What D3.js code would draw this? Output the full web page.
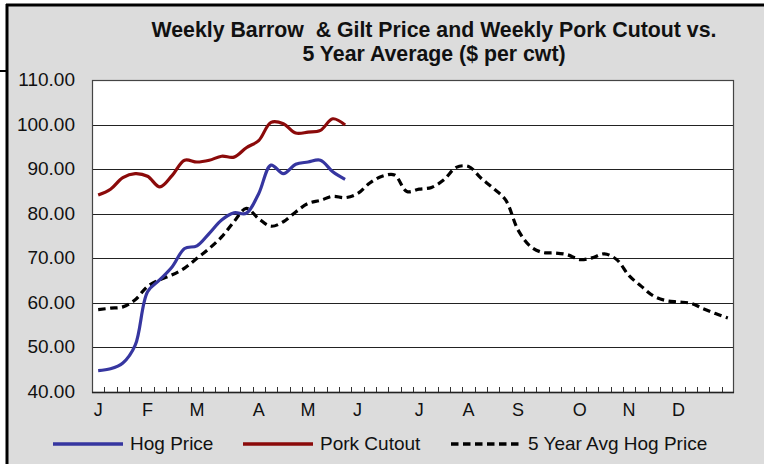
<!DOCTYPE html>
<html><head><meta charset="utf-8">
<script src="https://cdn.jsdelivr.net/npm/d3@7"></script>
<style>
html,body{margin:0;padding:0;background:#fff;}
svg text{font-family:"Liberation Sans",Arial,sans-serif;fill:#111;}
</style></head>
<body>
<svg id="c" width="764" height="464"></svg>
<script>
const monthLabels = ["J","F","M","A","M","J","J","A","S","O","N","D"];
const monthStartWeek = [0,4,8,13,17,21,26,30,34,39,43,47];
const yTicks = [40,50,60,70,80,90,100,110];
const hogPrice = [44.8,45.2,46.5,50.5,62.5,65.2,68.1,72.2,72.8,75.6,78.6,80.2,80.1,84.5,90.9,89.0,91.1,91.6,92.0,89.4,87.7];
const porkCutout = [84.2,85.5,88.1,89.0,88.4,86.0,88.6,92.0,91.6,92.0,92.9,92.7,94.8,96.4,100.5,100.2,98.1,98.3,98.7,101.3,99.9];
const fiveYearAvg = [58.5,58.8,59.1,60.7,63.7,65.2,66.3,67.8,70.0,72.2,74.8,78.2,81.2,78.9,77.2,78.2,80.4,82.3,83.0,83.9,83.6,84.5,86.9,88.4,88.7,85.0,85.5,85.9,87.6,90.4,90.6,88.0,85.7,83.1,76.4,72.7,71.3,71.2,70.8,69.7,70.1,71.0,69.7,66.1,63.7,61.5,60.5,60.2,59.9,58.7,57.6,56.6];
const titleLines = ["Weekly Barrow  & Gilt Price and Weekly Pork Cutout vs.","5 Year Average ($ per cwt)"];
const legendItems = [
  {name:"Hog Price", color:"#3636a0", dash:null},
  {name:"Pork Cutout", color:"#8b0a0a", dash:null},
  {name:"5 Year Avg Hog Price", color:"#000", dash:"7.5,4.5"}
];

const svg = d3.select("#c");
const W=764,H=464;
const L=92,R=734,T=80,B=392;
const weeks = d3.range(52);

// background
svg.append("rect").attr("x",7).attr("y",5).attr("width",W-7).attr("height",H-5).attr("fill","#dcdcdc");
svg.append("line").attr("x1",6).attr("x2",W).attr("y1",5).attr("y2",5).attr("stroke","#000").attr("stroke-width",3);
svg.append("line").attr("x1",7).attr("x2",7).attr("y1",4).attr("y2",H).attr("stroke","#000").attr("stroke-width",3);
svg.append("line").attr("x1",0).attr("x2",7).attr("y1",71).attr("y2",71).attr("stroke","#000").attr("stroke-width",2);

const x = d3.scaleBand().domain(weeks).range([L,R]).padding(0);
const y = d3.scaleLinear().domain([40,110]).range([B,T]);

svg.append("rect").attr("x",L).attr("y",T).attr("width",R-L).attr("height",B-T).attr("fill","#fff");

// gridlines
svg.append("g").selectAll("line").data(yTicks.filter(v=>v>40&&v<110)).join("line")
  .attr("x1",L).attr("x2",R).attr("y1",d=>Math.round(y(d))+0.5).attr("y2",d=>Math.round(y(d))+0.5)
  .attr("stroke","#222").attr("stroke-width",1);

// plot border
svg.append("rect").attr("x",L+0.5).attr("y",T+0.5).attr("width",R-L-1).attr("height",B-T).attr("fill","none").attr("stroke","#444").attr("stroke-width",1.2);

// week ticks
const bx = d3.range(53).map(i=>L+i*x.bandwidth());
svg.append("g").selectAll("line").data(bx.slice(1,52)).join("line")
  .attr("x1",d=>Math.round(d)+0.5).attr("x2",d=>Math.round(d)+0.5).attr("y1",B).attr("y2",B-5)
  .attr("stroke","#333").attr("stroke-width",1);
svg.append("line").attr("x1",L).attr("x2",R).attr("y1",B+0.5).attr("y2",B+0.5).attr("stroke","#222").attr("stroke-width",1.5);

// y labels
svg.append("g").selectAll("text").data(yTicks).join("text")
  .attr("x",75).attr("y",d=>y(d)+1).attr("text-anchor","end").attr("dominant-baseline","middle")
  .attr("font-size",19).text(d=>d.toFixed(2));

// month labels
svg.append("g").selectAll("text").data(monthLabels).join("text")
  .attr("x",(d,i)=>x(monthStartWeek[i])+x.bandwidth()/2).attr("y",416)
  .attr("text-anchor","middle").attr("font-size",18).text(d=>d);

// title
svg.append("g").selectAll("text").data(titleLines).join("text")
  .attr("x",434).attr("y",(d,i)=>37+i*24).attr("text-anchor","middle")
  .attr("font-size",21.3).attr("font-weight","bold").style("white-space","pre").attr("xml:space","preserve").text(d=>d);

// lines
const line = d3.line().x((d,i)=>x(i)+x.bandwidth()/2).y(d=>y(d)).curve(d3.curveCatmullRom.alpha(0.5));
const series = [fiveYearAvg, porkCutout, hogPrice];
const styles = [legendItems[2], legendItems[1], legendItems[0]];
series.forEach((s,k)=>{
  svg.append("path").datum(s).attr("d",line).attr("fill","none")
    .attr("stroke",styles[k].color).attr("stroke-width",3.2)
    .attr("stroke-dasharray",styles[k].dash).attr("stroke-linejoin","round");
});

// legend
const lx = [53,243,451];
const lg = svg.append("g").selectAll("g").data(legendItems).join("g");
lg.append("line").attr("x1",(d,i)=>lx[i]).attr("x2",(d,i)=>lx[i]+70).attr("y1",444).attr("y2",444)
  .attr("stroke",d=>d.color).attr("stroke-width",3.5).attr("stroke-dasharray",d=>d.dash);
lg.append("text").attr("x",(d,i)=>lx[i]+77).attr("y",445).attr("dominant-baseline","middle")
  .attr("font-size",19).text(d=>d.name);
</script>
</body></html>
